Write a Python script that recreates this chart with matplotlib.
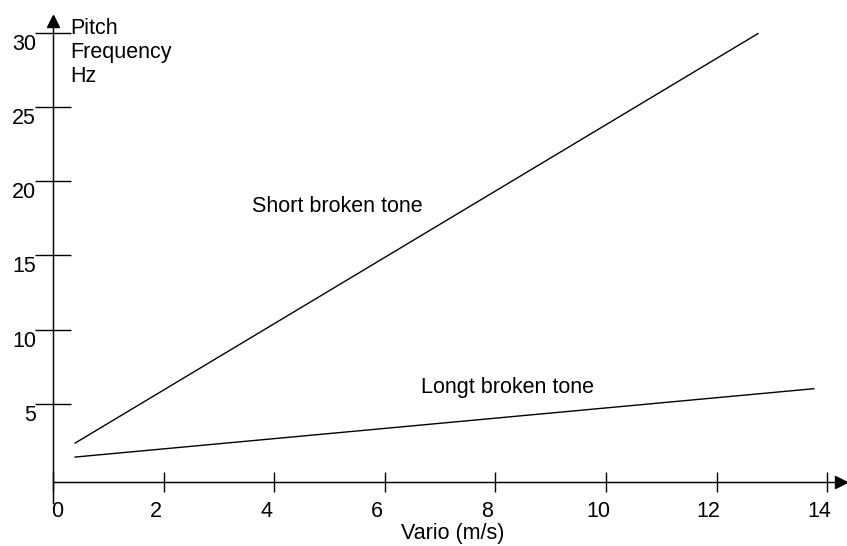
import numpy as np
import matplotlib
matplotlib.use("Agg")
import matplotlib.pyplot as plt
from matplotlib.transforms import ScaledTranslation

plt.rcParams['font.family'] = ['Liberation Sans', 'DejaVu Sans']

# data
short_x = [0.4, 12.75]
short_y = [2.37, 29.93]
long_x = [0.4, 13.76]
long_y = [1.43, 6.03]

x_ticks = [0, 2, 4, 6, 8, 10, 12, 14]
y_ticks = [5, 10, 15, 20, 25, 30]

fs = 15.5
dpi = 100
fig = plt.figure(figsize=(8.47, 5.46), dpi=dpi)
ax = fig.add_axes([0, 0, 1, 1])
ax.set_xlim(-0.9586, 14.36)
ax.set_ylim(-4.556, 32.19)

ax.plot(short_x, short_y, color='black', lw=1.0)
ax.plot(long_x, long_y, color='black', lw=1.0)

ax.text(3.6, 17.95, 'Short broken tone', fontsize=fs, ha='left', va='baseline')
ax.text(6.65, 5.76, 'Longt broken tone', fontsize=fs, ha='left', va='baseline')

# axes drawn as crossing lines with arrow heads
ax.spines['top'].set_visible(False)
ax.spines['right'].set_visible(False)
ax.spines['left'].set_position(('data', 0))
ax.spines['bottom'].set_position(('data', -0.26))
ax.spines['left'].set_bounds(-1.66, 30.4)
ax.spines['bottom'].set_bounds(0, 14.16)
for s in ['left', 'bottom']:
    ax.spines[s].set_linewidth(1.05)

ax.plot([0], [30.8], marker='^', color='black', markersize=9, clip_on=False)
ax.plot([14.25], [-0.26], marker='>', color='black', markersize=9, clip_on=False)

ax.set_xticks(x_ticks)
ax.set_xticklabels([str(t) for t in x_ticks])
ax.set_yticks(y_ticks)
ax.set_yticklabels([str(t) for t in y_ticks])
ax.tick_params(axis='x', direction='inout', length=13.7, width=1.0, pad=7, labelsize=fs)
ax.tick_params(axis='y', direction='inout', length=26.6, width=1.0, pad=-1, labelsize=fs)

for lab in ax.get_xticklabels():
    if lab.get_text() != '0':
        lab.set_transform(lab.get_transform() + ScaledTranslation(-8 / dpi, 0, fig.dpi_scale_trans))
    else:
        lab.set_transform(lab.get_transform() + ScaledTranslation(4 / dpi, 0, fig.dpi_scale_trans))
for lab in ax.get_yticklabels():
    lab.set_transform(lab.get_transform() + ScaledTranslation(0, -9 / dpi, fig.dpi_scale_trans))

ax.text(0.31, 31.0, 'Pitch\nFrequency\nHz', fontsize=fs, ha='left', va='top', linespacing=1.2)
ax.text(7.22, -3.02, 'Vario (m/s)', fontsize=fs, ha='center', va='top')

fig.savefig('out.png', dpi=dpi)
